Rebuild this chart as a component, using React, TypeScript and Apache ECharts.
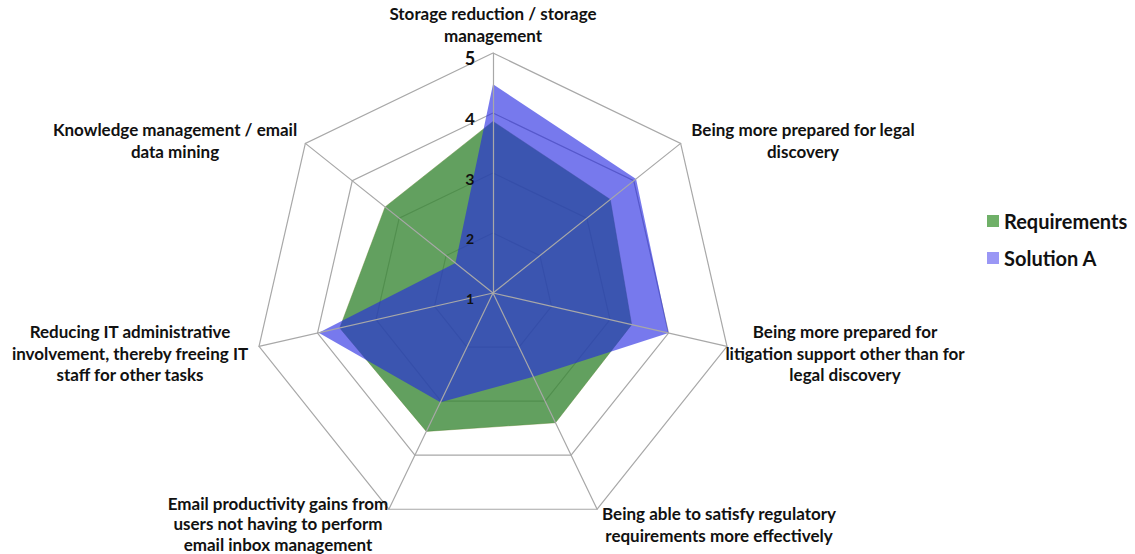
import React, { useEffect, useRef } from "react";
import * as echarts from "echarts";

// categories listed clockwise from the top
const categories = [
  "Storage reduction / storage\nmanagement",
  "Being more prepared for legal\ndiscovery",
  "Being more prepared for\nlitigation support other than for\nlegal discovery",
  "Being able to satisfy regulatory\nrequirements more effectively",
  "Email productivity gains from\nusers not having to perform\nemail inbox management",
  "Reducing IT administrative\ninvolvement, thereby freeing IT\nstaff for other tasks",
  "Knowledge management / email\ndata mining",
];
const requirements = [3.86, 3.5, 3.37, 3.4, 3.56, 3.62, 3.3];
const solutionA = [4.48, 4.05, 4.0, 2.55, 3.02, 3.98, 1.8];
const tickValues = [1, 2, 3, 4, 5];
const seriesNames = ["Requirements", "Solution A"];

const FONT = "Lato";
const CX = 493;
const CY = 293;
const R = 240;
const MIN = 1;
const MAX = 5;

// label anchors (center x, top y) for each axis name
const nameAnchors = [
  [493, 3],
  [803, 119],
  [845, 321],
  [719, 503],
  [278, 493],
  [130, 321],
  [175, 119],
];
const tickSizes = [14, 14, 16, 17, 18];

// ECharts lays indicators counter-clockwise; reorder to get clockwise layout
const order = categories.map((_, i) => (i === 0 ? 0 : categories.length - i));
const reorder = (arr: number[]) => order.map((k) => arr[k]);

export default function App() {
  const ref = useRef<HTMLDivElement>(null);
  useEffect(() => {
    document.body.style.margin = "0";
    const chart = echarts.init(ref.current!, undefined, { renderer: "svg" });
    const indicator = order.map((k) => ({ name: categories[k], min: MIN, max: MAX }));
    const graphics: any[] = [];
    categories.forEach((c, i) => {
      graphics.push({
        type: "text",
        z: 10,
        x: nameAnchors[i][0],
        y: nameAnchors[i][1],
        style: {
          text: c,
          font: `bold 17px ${FONT}`,
          fill: "#111",
          textAlign: "center",
          textVerticalAlign: "top",
          lineHeight: i === 4 ? 20.5 : 21.5,
        },
      });
    });
    tickValues.forEach((v, i) => {
      const y = CY - ((v - MIN) / (MAX - MIN)) * R + 5;
      graphics.push({
        type: "text",
        z: 10,
        x: 470,
        y,
        style: {
          text: String(v),
          font: `bold ${tickSizes[i]}px ${FONT}`,
          fill: "#111",
          textAlign: "center",
          textVerticalAlign: "middle",
        },
      });
    });
    chart.setOption({
      animation: false,
      legend: {
        orient: "vertical",
        left: 982,
        top: 206,
        itemWidth: 12,
        itemHeight: 12,
        itemGap: 17,
        icon: "rect",
        data: seriesNames,
        textStyle: { fontFamily: FONT, fontWeight: "bold", fontSize: 20, color: "#111" },
      },
      radar: [
        {
          center: [CX, CY],
          radius: R,
          startAngle: 90,
          splitNumber: 4,
          shape: "polygon",
          indicator,
          axisName: { show: false },
          axisLine: { show: false },
          splitLine: { lineStyle: { color: "#a8a8a8", width: 1.2 } },
          splitArea: { show: false },
          z: 0,
        },
        {
          center: [CX, CY],
          radius: R,
          startAngle: 90,
          splitNumber: 4,
          shape: "polygon",
          indicator,
          axisName: { show: false },
          axisLine: { show: true, lineStyle: { color: "#a8a8a8", width: 1.2 } },
          splitLine: { show: false },
          splitArea: { show: false },
          z: 5,
        },
      ],
      series: [
        {
          type: "radar",
          radarIndex: 0,
          z: 2,
          symbol: "none",
          data: [
            {
              name: seriesNames[0],
              value: reorder(requirements),
              itemStyle: { color: "#6fb068" },
              lineStyle: { width: 0.6, color: "rgba(120,140,60,0.8)" },
              areaStyle: { color: "rgba(59,136,55,0.8)", opacity: 1 },
            },
          ],
        },
        {
          type: "radar",
          radarIndex: 0,
          z: 3,
          symbol: "none",
          data: [
            {
              name: seriesNames[1],
              value: reorder(solutionA),
              itemStyle: { color: "#9a97f5" },
              lineStyle: { width: 0 },
              areaStyle: { color: "rgba(35,39,226,0.62)", opacity: 1 },
            },
          ],
        },
      ],
      graphic: graphics,
    });
    return () => chart.dispose();
  }, []);
  return <div ref={ref} style={{ width: 1135, height: 554 }} />;
}
